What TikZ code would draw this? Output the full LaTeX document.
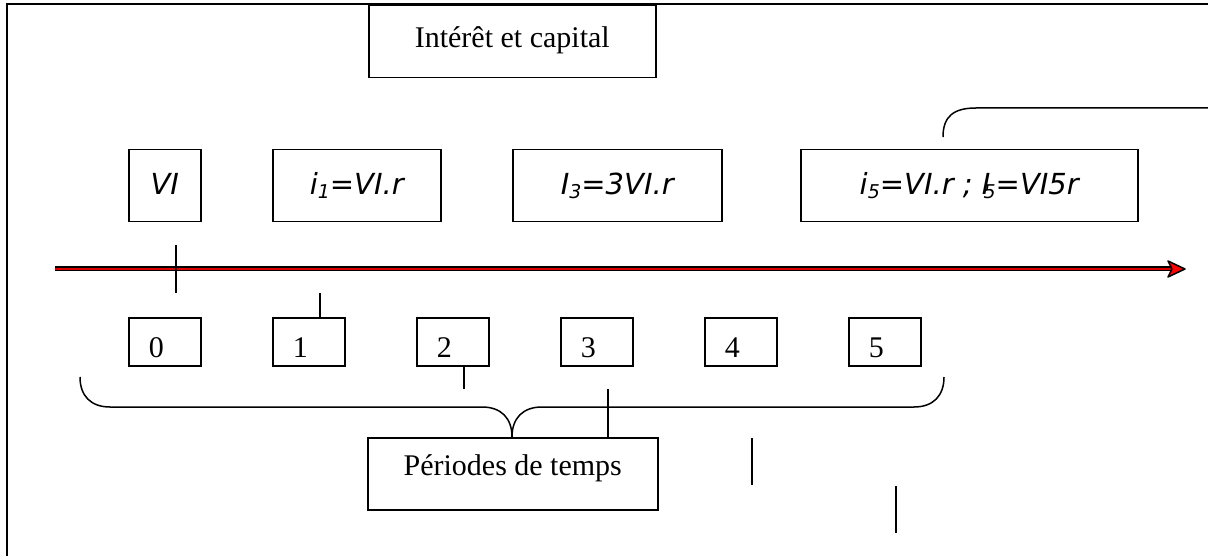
\documentclass[tikz,border=0pt]{standalone}
\usepackage{fontspec}
\setmainfont{Liberation Serif}
\newfontfamily\djsans{DejaVu Sans}
\newcommand{\sbs}[1]{\raisebox{-0.12em}{\fontsize{19pt}{19pt}\selectfont #1}}
\begin{document}
\begin{tikzpicture}[x=1pt,y=-1pt,
  box/.style={draw, line width=1.5pt, inner sep=0pt},
  serif/.style={font=\fontsize{30pt}{33pt}\selectfont},
  formula/.style={font=\djsans\itshape\fontsize{29pt}{32pt}\selectfont},
  digitbox/.style={box, serif, minimum width=72pt, text height=40pt, text depth=8pt, anchor=north west},
  topbox/.style={box, formula, text height=45pt, text depth=27pt, anchor=north west},
  thin/.style={line width=1.5pt},
  frame/.style={line width=2.5pt}]
\useasboundingbox (0,0) rectangle (1208,556);
% frame
\coordinate (fbl) at (7,556);
\coordinate (ftl) at (7,4);
\coordinate (ftr) at (1208,4);
\draw[frame] (fbl) -- (ftl) -- (ftr);
% title
\node[box, serif, minimum width=287pt, text height=42pt, text depth=30pt, anchor=north west] (title) at (368,5) {Intérêt et capital};
% formula boxes
\node[topbox, minimum width=72pt] (vi) at (128,149) {VI};
\node[topbox, minimum width=168pt] (i1) at (272,149) {i\sbs{1}=VI.r};
\node[topbox, minimum width=209pt] (i3) at (512,149) {I\sbs{3}=3VI.r};
\node[topbox, minimum width=337pt] (i5) at (800,149) {i\sbs{5}=VI.r ; \makebox[0pt][l]{I}\kern0.06em\sbs{5}=VI5r};
% curve above i5
\coordinate (cs) at (943,137);
\coordinate (ce) at (1208,108);
\draw[thin] (cs) .. controls (943,116) and (954,108) .. (976,108) -- (ce);
% axis
\coordinate (a0) at (55,269);
\coordinate (a1) at (1172,269);
\coordinate (tip) at (1185,269);
\draw[line width=5pt, black] (a0) -- (a1);
\draw[line width=2pt, red!85!black] (a0) -- (a1);
\draw[line width=1.5pt, fill=red, line join=round] (tip) -- (1168,261) -- (1172,269) -- (1168,277) -- cycle;
% digit boxes
\node[digitbox] (d0) at (128,317) {\makebox[72pt][l]{\hspace{20pt}0}};
\node[digitbox] (d1) at (272,317) {\makebox[72pt][l]{\hspace{20pt}1}};
\node[digitbox] (d2) at (416,317) {\makebox[72pt][l]{\hspace{20pt}2}};
\node[digitbox] (d3) at (560,317) {\makebox[72pt][l]{\hspace{20pt}3}};
\node[digitbox] (d4) at (704,317) {\makebox[72pt][l]{\hspace{20pt}4}};
\node[digitbox] (d5) at (848,317) {\makebox[72pt][l]{\hspace{20pt}5}};
% periods box
\node[box, serif, minimum width=290pt, text height=38pt, text depth=34pt, anchor=north west] (per) at (367,437) {Périodes de temps};
% ticks
\coordinate (t0a) at (176,245);
\coordinate (t0b) at (176,293);
\draw[thin] (t0a) -- (t0b);
\coordinate (t1a) at (320,293);
\draw[thin] (t1a) -- (t1a |- d1.north);
\coordinate (t2b) at (464,389);
\draw[thin] (t2b |- d2.south) -- (t2b);
\coordinate (t3a) at (608,389);
\draw[thin] (t3a) -- (t3a |- per.north);
\coordinate (t4a) at (752,438);
\coordinate (t4b) at (752,485);
\draw[thin] (t4a) -- (t4b);
\coordinate (t5a) at (896,486);
\coordinate (t5b) at (896,533);
\draw[thin] (t5a) -- (t5b);
% brace
\coordinate (bl) at (80,377);
\coordinate (bt) at (512,437);
\coordinate (br) at (944,377);
\draw[thin] (bl) .. controls (80,396) and (91,407) .. (110,407) -- (482,407) .. controls (501,407) and (512,418) .. (bt);
\draw[thin] (bt) .. controls (512,418) and (523,407) .. (542,407) -- (914,407) .. controls (933,407) and (944,396) .. (br);
\end{tikzpicture}
\end{document}
